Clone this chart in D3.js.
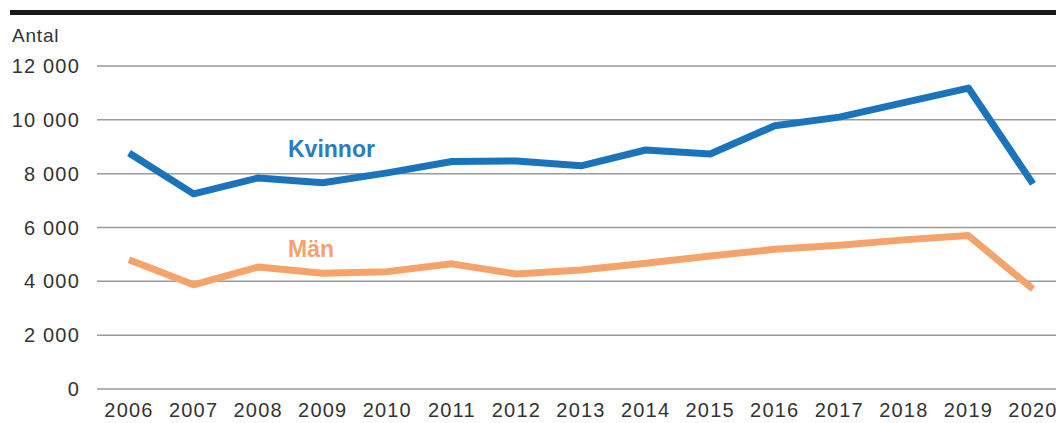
<!DOCTYPE html>
<html>
<head>
<meta charset="utf-8">
<script src="https://cdn.jsdelivr.net/npm/d3@7"></script>
<style>
  body { margin: 0; background: #fff; }
  svg { display: block; font-family: "Liberation Sans", Arial, sans-serif; }
</style>
</head>
<body>
<svg id="chart" width="1056" height="423"></svg>
<script>
const years = [2006, 2007, 2008, 2009, 2010, 2011, 2012, 2013, 2014, 2015, 2016, 2017, 2018, 2019, 2020]
const kvinnor = [8770, 7250, 7840, 7660, 8030, 8450, 8470, 8290, 8880, 8730, 9780, 10100, 10640, 11180, 7620]
const man = [4800, 3870, 4530, 4300, 4360, 4650, 4270, 4420, 4670, 4940, 5190, 5340, 5540, 5700, 3710]
const yTicks = [0, 2000, 4000, 6000, 8000, 10000, 12000]

const svg = d3.select('#chart')

// top rule
svg.append('rect').attr('x', 10).attr('y', 10).attr('width', 1046).attr('height', 5).attr('fill', '#1a1a1a')

const x = d3.scalePoint().domain(years).range([129, 1033])
const y = d3.scaleLinear().domain([0, 12000]).range([389, 66])

const fmt = v => d3.format(',')(v).replace(',', ' ')

// gridlines
svg.append('g').selectAll('line')
  .data(yTicks)
  .join('line')
  .attr('x1', 97).attr('x2', 1056)
  .attr('y1', d => y(d)).attr('y2', d => y(d))
  .attr('stroke', '#9a9a9a')
  .attr('stroke-width', 1.5)

svg.append('g').selectAll('text')
  .data(yTicks)
  .join('text')
  .attr('x', 80)
  .attr('y', d => y(d) + 7)
  .attr('text-anchor', 'end')
  .attr('font-size', 20)
  .attr('letter-spacing', 1.2)
  .attr('fill', '#333')
  .text(fmt)

svg.append('text').attr('x', 12).attr('y', 42).attr('font-size', 19)
  .attr('letter-spacing', 0.8).attr('fill', '#333').text('Antal')

// x labels
svg.append('g').selectAll('text')
  .data(years)
  .join('text')
  .attr('x', d => x(d))
  .attr('y', 417)
  .attr('text-anchor', 'middle')
  .attr('font-size', 20)
  .attr('letter-spacing', 1.2)
  .attr('fill', '#333')
  .text(d => d)

const line = d3.line().x((d, i) => x(years[i])).y(d => y(d))

svg.append('path')
  .attr('d', line(man))
  .attr('fill', 'none')
  .attr('stroke', '#f4a46a')
  .attr('stroke-width', 7)
  .attr('stroke-linejoin', 'round')

svg.append('path')
  .attr('d', line(kvinnor))
  .attr('fill', 'none')
  .attr('stroke', '#1b74bb')
  .attr('stroke-width', 7)
  .attr('stroke-linejoin', 'round')

svg.append('text').attr('x', 288).attr('y', 157).attr('font-size', 23).attr('font-weight', 'bold')
  .attr('fill', '#2a7cc0').text('Kvinnor')
svg.append('text').attr('x', 288).attr('y', 257).attr('font-size', 23).attr('font-weight', 'bold')
  .attr('fill', '#f4a46a').text('Män')
</script>
</body>
</html>
